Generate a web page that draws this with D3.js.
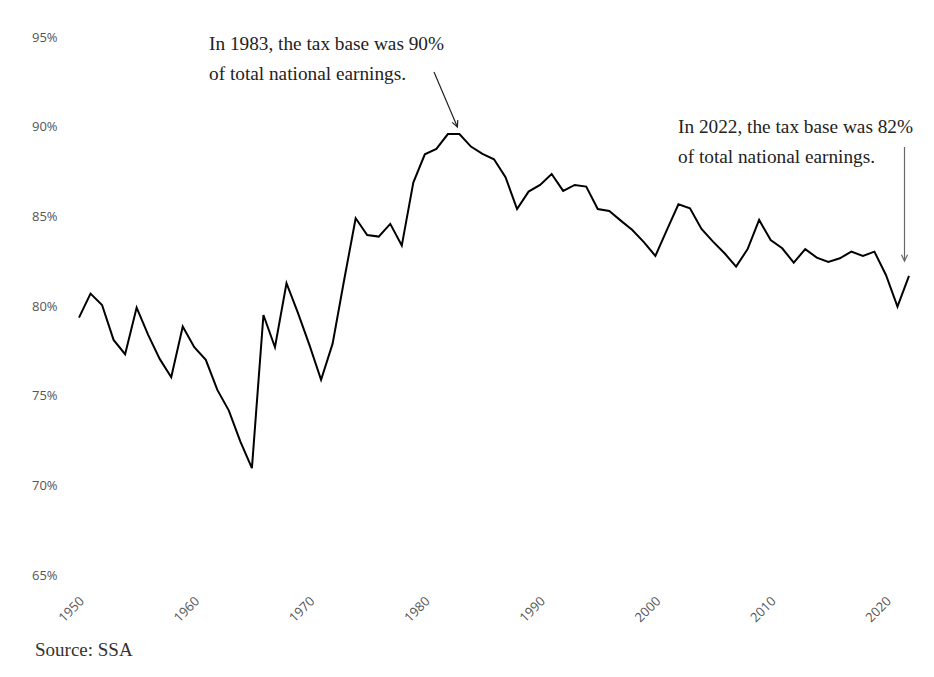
<!DOCTYPE html>
<html>
<head>
<meta charset="utf-8">
<script src="https://cdn.jsdelivr.net/npm/d3@7"></script>
<style>
  html, body { margin: 0; padding: 0; background: #fff; }
  svg { display: block; }
</style>
</head>
<body>
<svg id="chart" width="934" height="677"></svg>
<script>
const years = d3.range(1950, 2023);
const values = [
  79.35, 80.69, 80.06, 78.11, 77.31, 79.91, 78.39, 77.05, 76.03, 78.85,
  77.70, 77.00, 75.32, 74.17, 72.44, 70.96, 79.50, 77.70, 81.27, 79.60,
  77.80, 75.88, 77.90, 81.45, 84.89, 83.96, 83.87, 84.58, 83.37, 86.88,
  88.46, 88.76, 89.59, 89.59, 88.89, 88.48, 88.18, 87.18, 85.41, 86.38,
  86.75, 87.36, 86.42, 86.75, 86.66, 85.41, 85.30, 84.76, 84.24, 83.56,
  82.79, 84.24, 85.67, 85.45, 84.30, 83.59, 82.94, 82.20, 83.17, 84.80,
  83.68, 83.22, 82.42, 83.17, 82.70, 82.46, 82.66, 83.03, 82.79, 83.03,
  81.73, 79.97, 81.68
];
const yTicks = [65, 70, 75, 80, 85, 90, 95];
const xTicks = [1950, 1960, 1970, 1980, 1990, 2000, 2010, 2020];
const annotations = [
  { year: 1983, value: 89.59, lines: ["In 1983, the tax base was 90%", "of total national earnings."] },
  { year: 2022, value: 81.68, lines: ["In 2022, the tax base was 82%", "of total national earnings."] }
];
const source = "Source: SSA";

const svg = d3.select("#chart");
const x = d3.scaleLinear().domain([1950, 2022]).range([79, 909]);
const y = d3.scaleLinear().domain([65, 95]).range([575, 37]);

// y labels
svg.append("g").selectAll("text").data(yTicks).join("text")
  .attr("x", 32).attr("y", d => y(d)).attr("dy", "0.35em")
  .attr("font-family", "'Open Sans', sans-serif").attr("font-size", 13)
  .attr("fill", "#555").text(d => d + "%");

// x labels
svg.append("g").selectAll("text").data(xTicks).join("text")
  .attr("transform", d => `translate(${x(d) + 6},602) rotate(-45)`)
  .attr("text-anchor", "end")
  .attr("font-family", "'Open Sans', sans-serif").attr("font-size", 13)
  .attr("fill", "#555").text(d => d);

// line
const line = d3.line().x((d, i) => x(years[i])).y(d => y(d));
svg.append("path").datum(values)
  .attr("d", line).attr("fill", "none")
  .attr("stroke", "#000").attr("stroke-width", 2).attr("stroke-linejoin", "miter");

// annotations
const serif = "'Liberation Serif', 'Times New Roman', serif";
const a1 = svg.append("g");
a1.selectAll("text").data(annotations[0].lines).join("text")
  .attr("x", 209).attr("y", (d, i) => 50 + i * 30)
  .attr("font-family", serif).attr("font-size", 19.3).attr("fill", "#222").text(d => d);
const a2 = svg.append("g");
a2.selectAll("text").data(annotations[1].lines).join("text")
  .attr("x", 678).attr("y", (d, i) => 133 + i * 30)
  .attr("font-family", serif).attr("font-size", 19.3).attr("fill", "#222").text(d => d);

function arrow(x1, y1, x2, y2, color) {
  const g = svg.append("g").attr("stroke", color).attr("stroke-width", 1.2).attr("fill", "none");
  g.append("line").attr("x1", x1).attr("y1", y1).attr("x2", x2).attr("y2", y2);
  const ang = Math.atan2(y2 - y1, x2 - x1);
  const L = 7, w = 0.45;
  g.append("path").attr("d",
    `M${x2 - L * Math.cos(ang - w)},${y2 - L * Math.sin(ang - w)}L${x2},${y2}L${x2 - L * Math.cos(ang + w)},${y2 - L * Math.sin(ang + w)}`);
}
arrow(434, 72, x(annotations[0].year) - 2, y(annotations[0].value) - 7, "#222");
arrow(904.5, 147, 904.5, 261, "#666");

// source
svg.append("text").attr("x", 35).attr("y", 656)
  .attr("font-family", serif).attr("font-size", 19).attr("fill", "#333").text(source);
</script>
</body>
</html>
